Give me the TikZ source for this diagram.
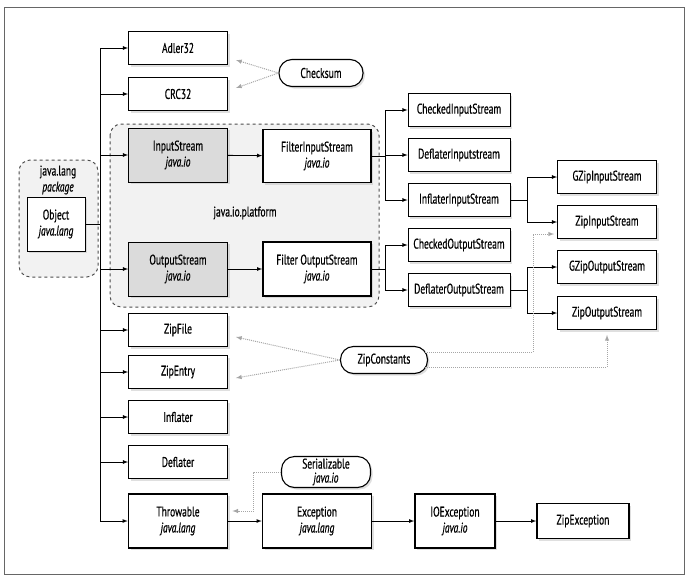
\documentclass[tikz,border=0pt]{standalone}
\usepackage{fontspec}
\setmainfont{PT Sans}[FakeStretch=0.68, FakeBold=0.6]
\usepackage{tikz}
\usetikzlibrary{calc,positioning,backgrounds,shadows}
\newcommand\clsfont{\fontsize{14}{16}\selectfont}
\tikzset{cls/.style={draw, fill=white, line width=0.8pt, align=center, inner sep=1pt, minimum height=33pt, minimum width=99pt, font=\clsfont, drop shadow={shadow xshift=2pt, shadow yshift=-2pt, fill=black!25}}}
\tikzset{core/.style={cls, line width=1.6pt}}
\tikzset{ios/.style={cls, fill=black!14}}
\tikzset{iface/.style={cls, rounded corners=13pt, line width=1.1pt, minimum height=27pt}}
\tikzset{grp/.style={draw=black!70, dashed, line width=1pt, fill=black!5, rounded corners=4mm}}
\tikzset{grplbl/.style={draw=none, align=center, inner sep=0pt, font=\clsfont}}
\tikzset{
  edgeext/.style={black, line width=0.8pt, -latex},
  edgedep/.style={black!35, densely dotted, line width=1pt, -latex}
}

\begin{document}
\begin{tikzpicture}[x=1pt, y=-1pt]
\useasboundingbox (0,0) rectangle (690,581);
\draw[black!60, line width=1pt] (4,7) rectangle (684,574);

\node[cls, minimum width=58pt, minimum height=54pt](object) at (56,224)
{Object\\\textit{java.lang}};

\node[cls](adler) at (178,48) {Adler32};
\node[cls](crc) at (178,94) {CRC32};
\node[iface, minimum width=84pt](checksum) at (321,73) {Checksum};

\node[ios, minimum height=54pt](instream) at (178,155)
{InputStream\\\textit{java.io}};
\node[core, minimum width=108pt, minimum height=53pt](filterin) at (317,156)
{FilterInputStream\\\textit{java.io}};
\node[ios, minimum height=54pt](outstream) at (178,269)
{OutputStream\\\textit{java.io}};
\node[core, minimum width=108pt, minimum height=54pt](filterout) at (317,269)
{Filter OutputStream\\\textit{java.io}};

\node[cls, minimum width=102pt](checkedin) at (459,110) {CheckedInputStream};
\node[cls, minimum width=102pt](deflin) at (459,155) {DeflaterInputstream};
\node[cls, minimum width=102pt](inflin) at (459,200) {InflaterInputStream};
\node[cls, minimum width=102pt](checkedout) at (459,245) {CheckedOutputStream};
\node[cls, minimum width=102pt](deflout) at (459,290) {DeflaterOutputStream};

\node[cls](gzipin) at (607,177) {GZipInputStream};
\node[cls](zipin) at (607,222) {ZipInputStream};
\node[cls](gzipout) at (607,267) {GZipOutputStream};
\node[cls](zipout) at (607,313) {ZipOutputStream};

\node[cls](zipfile) at (178,330) {ZipFile};
\node[cls](zipentry) at (178,372) {ZipEntry};
\node[cls](inflater) at (178,417) {Inflater};
\node[cls](deflater) at (178,462) {Deflater};
\node[iface, minimum width=87pt](zipconst) at (384,360) {ZipConstants};

\node[core, minimum height=54pt](throwable) at (178,521)
{Throwable\\\textit{java.lang}};
\node[core, minimum width=109pt, minimum height=54pt](exception) at (317,521)
{Exception\\\textit{java.lang}};
\node[core, minimum width=80pt, minimum height=54pt](ioexception) at (455,521)
{IOException\\\textit{java.io}};
\node[core, minimum width=92pt, minimum height=35pt](zipexception) at (583,521)
{ZipException};
\node[iface, minimum width=89pt, minimum height=31pt, font=\fontsize{14}{14}\selectfont](serial) at (326,472)
{Serializable\\\textit{java.io}};

\begin{scope}[on background layer]
\draw[grp] (110,124) rectangle (379,307);
\draw[grp] (19,160) rectangle (98,277);
\end{scope}
\node[grplbl](platform) at (245,213) {java.io.platform};
\node[grplbl](langpkg) at (58,180) {java.lang\\\textit{package}};

\foreach \n in {adler,crc,instream,outstream,zipfile,zipentry,inflater,deflater,throwable}
  \draw[edgeext] (object.east) -- ++(15,0) |- (\n.west);

\draw[edgeext] (instream) -- (filterin);
\draw[edgeext] (outstream) -- (filterout);

\foreach \n in {checkedin,deflin,inflin}
  \draw[edgeext] (filterin.east) -- ++(14,0) |- (\n.west);
\foreach \n in {checkedout,deflout}
  \draw[edgeext] (filterout.east) -- ++(14,0) |- (\n.west);
\foreach \n in {gzipin,zipin}
  \draw[edgeext] (inflin.east) -- ++(17,0) |- (\n.west);
\foreach \n in {gzipout,zipout}
  \draw[edgeext] (deflout.east) -- ++(17,0) |- (\n.west);

\draw[edgeext] (throwable) -- (exception);
\draw[edgeext] (exception) -- (ioexception);
\draw[edgeext] (ioexception) -- (zipexception);

\draw[edgedep] (checksum.west) -- ($(adler.east)+(8,12)$);
\draw[edgedep] (checksum.west) -- ($(crc.east)+(8,-6)$);
\draw[edgedep] (zipconst.west) -- ($(zipfile.east)+(8,7)$);
\draw[edgedep] (zipconst.west) -- ($(zipentry.east)+(8,6)$);
\draw[edgedep] ($(zipconst.east)+(-3,-8)$) -- ++(108,0) |- ($(zipin.west)+(-3,12)$);
\draw[edgedep, shorten >=5pt] ($(zipconst.east)+(-3,7)$) -| (zipout.south);
\draw[edgedep] (serial.west) -- ++(-27,0) |- ($(throwable.east)+(4,-10)$);
\end{tikzpicture}
\end{document}
